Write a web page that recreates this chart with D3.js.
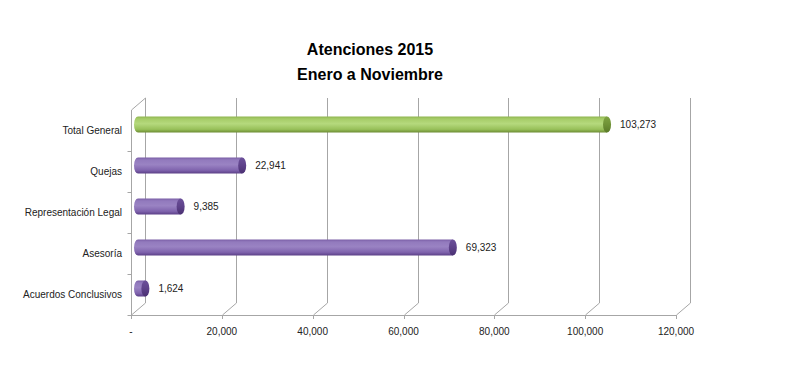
<!DOCTYPE html>
<html><head><meta charset="utf-8">
<script src="https://cdn.jsdelivr.net/npm/d3@7"></script>
<style>body{margin:0;background:#fff}svg{display:block}text{font-family:"Liberation Sans",Arial,sans-serif}</style>
</head><body><svg id="c" width="800" height="388"></svg>
<script>
const categories = ["Total General","Quejas","Representación Legal","Asesoría","Acuerdos Conclusivos"];
const values = [103273, 22941, 9385, 69323, 1624];
const xTicks = [0,20000,40000,60000,80000,100000,120000];
const titleLines = ["Atenciones 2015","Enero a Noviembre"];

const svg = d3.select("#c");
const x = d3.scaleLinear().domain([0,120000]).range([131,676]);
const y = d3.scaleBand().domain(categories).range([110,315]);
const DX = 14, DY = -12;
const grid = "#a6a6a6";

// title
svg.append("g").selectAll("text").data(titleLines).join("text")
  .attr("x",370).attr("y",(d,i)=>55+i*25).attr("text-anchor","middle")
  .attr("font-size",16).attr("font-weight","bold").attr("fill","#000").text(d=>d);

// gradients
const defs = svg.append("defs");
function grad(id, stops){
  const g = defs.append("linearGradient").attr("id",id).attr("x1",0).attr("y1",0).attr("x2",0).attr("y2",1);
  stops.forEach(([o,c])=>g.append("stop").attr("offset",o).attr("stop-color",c));
}
grad("gG",[[0,"#8fb550"],[0.15,"#a6cc68"],[0.45,"#b5d97d"],[0.8,"#98c05a"],[1,"#6c8c33"]]);
grad("gP",[[0,"#7a5ea6"],[0.15,"#927abd"],[0.45,"#9a83c3"],[0.8,"#7f63ad"],[1,"#5b3f87"]]);
grad("cG",[[0,"#7fa342"],[0.5,"#6f9236"],[1,"#5a7a28"]]);
grad("cP",[[0,"#6c509a"],[0.5,"#5e428a"],[1,"#4a3072"]]);

const g = svg.append("g").attr("fill","none").attr("stroke",grid).attr("stroke-width",1);
// back gridlines + floor diagonals
xTicks.forEach(t=>{
  const fx = Math.round(x(t))+0.5;
  g.append("line").attr("x1",fx+DX).attr("x2",fx+DX).attr("y1",y.range()[0]+DY).attr("y2",y.range()[1]+DY);
  g.append("line").attr("x1",fx).attr("y1",y.range()[1]).attr("x2",fx+DX).attr("y2",y.range()[1]+DY);
  g.append("line").attr("x1",fx).attr("x2",fx).attr("y1",y.range()[1]).attr("y2",y.range()[1]+4);
});
// front axis line
g.append("line").attr("x1",x(0)).attr("x2",x(120000)).attr("y1",315.5).attr("y2",315.5);
// left wall
const lx = Math.round(x(0))+0.5;
g.append("line").attr("x1",lx).attr("x2",lx).attr("y1",y.range()[0]).attr("y2",y.range()[1]);
g.append("line").attr("x1",lx).attr("y1",y.range()[0]).attr("x2",lx+DX).attr("y2",y.range()[0]+DY);
const bounds = categories.map(c=>y(c)).concat([y.range()[1]]);
bounds.slice(1).forEach(b=>g.append("line").attr("x1",lx-4).attr("x2",lx).attr("y1",Math.round(b)+0.5).attr("y2",Math.round(b)+0.5));

// x tick labels
svg.append("g").selectAll("text").data(xTicks).join("text")
  .attr("x",d=>x(d)).attr("y",335).attr("text-anchor","middle").attr("font-size",10).attr("fill","#222")
  .text(d=>d===0?"-":d3.format(",")(d));

// category labels
svg.append("g").selectAll("text").data(categories).join("text")
  .attr("x",122).attr("y",d=>y(d)+y.bandwidth()/2+3.5).attr("text-anchor","end").attr("font-size",10).attr("fill","#222")
  .text(d=>d);

// bars (cylinders)
const R = 8, RX = 4;
const bars = svg.append("g");
categories.forEach((c,i)=>{
  const cy = y(c)+y.bandwidth()/2 + DY/2;
  const x0 = x(0)+DX/2, x1 = x(values[i])+DX/2;
  const green = i===0;
  const body = green?"url(#gG)":"url(#gP)";
  const cap = green?"url(#cG)":"url(#cP)";
  bars.append("path")
    .attr("d",`M${x0},${cy-R} L${x1},${cy-R} L${x1},${cy+R} L${x0},${cy+R} A${RX},${R} 0 0 1 ${x0},${cy-R} Z`)
    .attr("fill",body);
  bars.append("ellipse").attr("cx",x1).attr("cy",cy).attr("rx",RX).attr("ry",R).attr("fill",cap);
  svg.append("text").attr("x",x1+13).attr("y",cy+3.5).attr("font-size",10).attr("fill","#222")
    .text(d3.format(",")(values[i]));
});
</script></body></html>
